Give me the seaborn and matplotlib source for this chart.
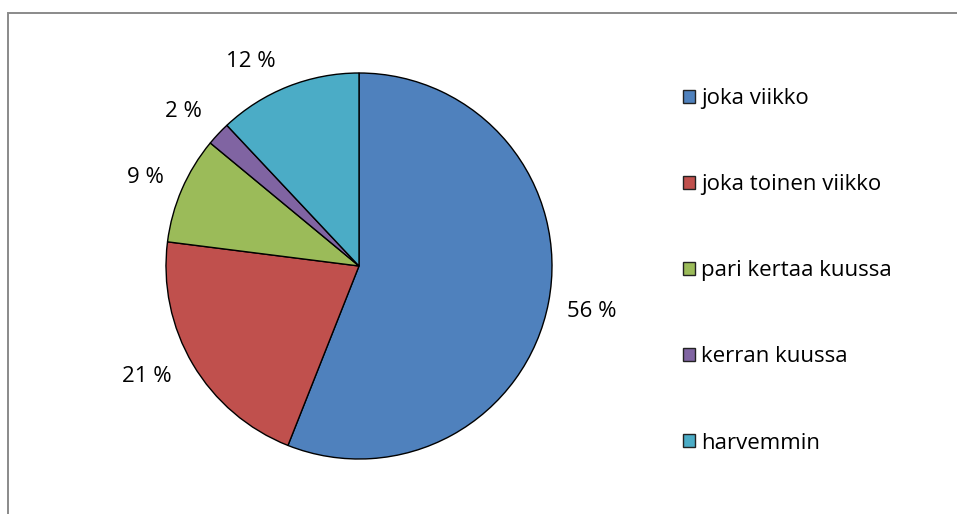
import matplotlib
matplotlib.use("Agg")
import matplotlib.pyplot as plt
from matplotlib.patches import Patch, Rectangle
import seaborn as sns

categories = ["joka viikko", "joka toinen viikko", "pari kertaa kuussa",
              "kerran kuussa", "harvemmin"]
values = [56, 21, 9, 2, 12]
colors = ["#4F81BD", "#C0504D", "#9BBB59", "#8064A2", "#4BACC6"]

# where each percentage label sits, in pie-radius units from the centre
label_xy = [(1.207, -0.238), (-1.098, -0.575), (-1.104, 0.461),
            (-0.909, 0.803), (-0.562, 1.062)]

sns.set_theme(style="white")
plt.rcParams["font.family"] = ["Open Sans", "DejaVu Sans"]
FS = 16

W, H, DPI = 957, 514, 100
fig = plt.figure(figsize=(W / DPI, H / DPI), dpi=DPI)
fig.patch.set_facecolor("white")

# outer chart frame
fig.patches.append(Rectangle((8 / W, -0.1), 1.2, 1 - 13 / H + 0.1,
                             transform=fig.transFigure, fill=False,
                             edgecolor="#8a8a8a", linewidth=1.4))

cx, cy, r = 359, 266, 193
ax = fig.add_axes([(cx - r) / W, (H - cy - r) / H, 2 * r / W, 2 * r / H])
palette = sns.color_palette(colors)
wedges, _, autotexts = ax.pie(
    values, colors=palette, startangle=90, counterclock=False,
    autopct=lambda p: f"{p:.0f} %", pctdistance=1.21,
    wedgeprops=dict(edgecolor="black", linewidth=1.0),
    textprops=dict(fontsize=FS, color="black"),
)
for t, xy in zip(autotexts, label_xy):
    t.set_position(xy)
ax.set_xlim(-1, 1)
ax.set_ylim(-1, 1)
ax.set_aspect("equal")
ax.axis("off")

handles = [Patch(facecolor=c, edgecolor="#222222", linewidth=1.0) for c in palette]
leg = fig.legend(handles, categories, loc="upper left",
                 bbox_to_anchor=(672 / W, 1 - 77 / H), frameon=False,
                 fontsize=FS, handlelength=0.55, handleheight=0.55,
                 handletextpad=0.25, labelspacing=2.93, borderpad=0)
for txt in leg.get_texts():
    txt.set_color("black")

fig.savefig("out.png", dpi=DPI)
